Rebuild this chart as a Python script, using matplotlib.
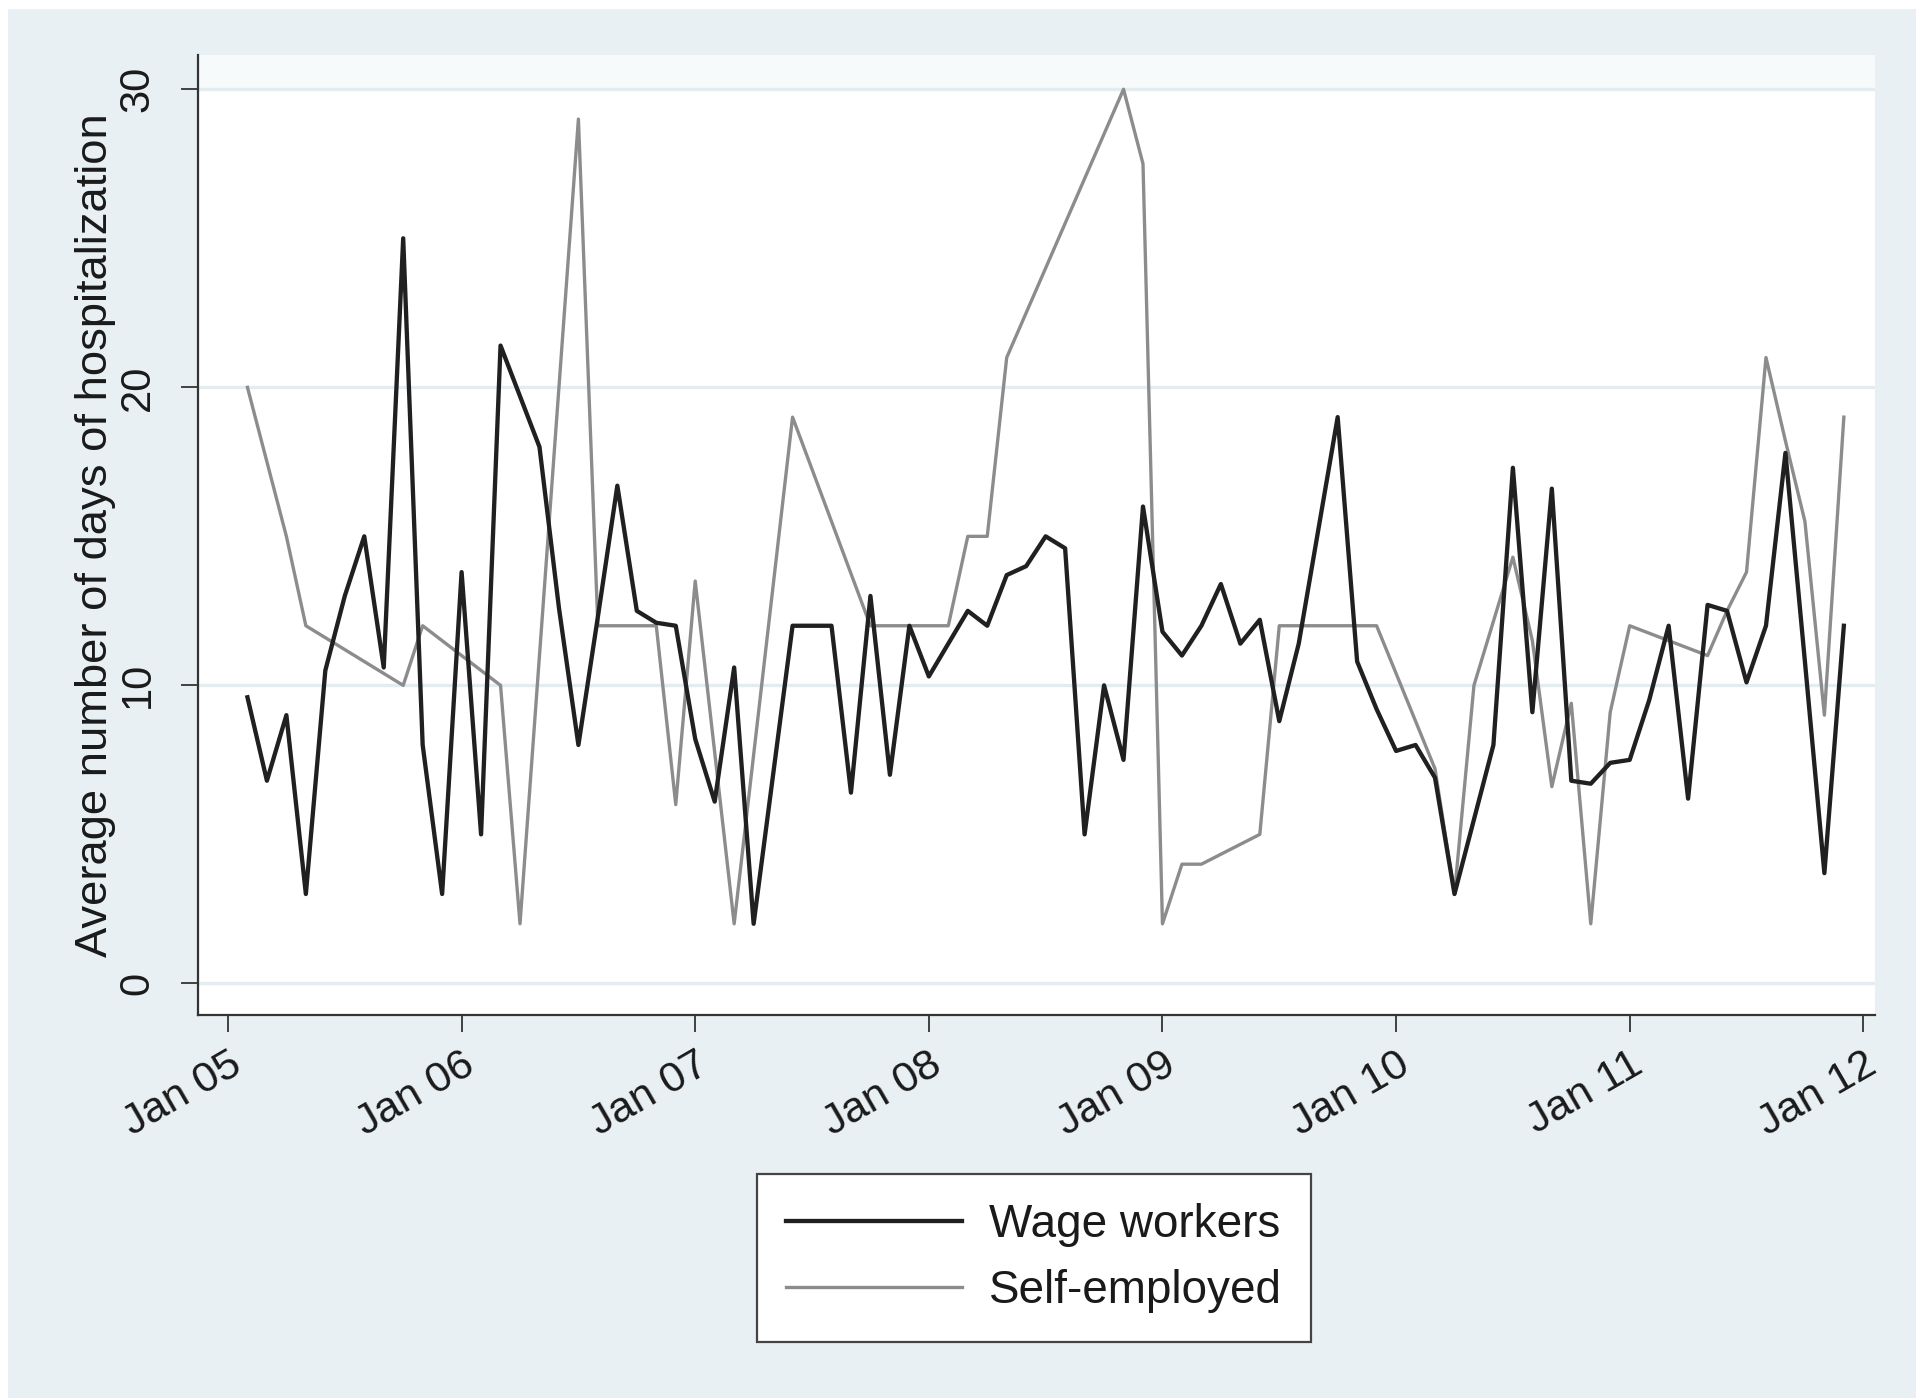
import matplotlib
matplotlib.use('Agg')
import matplotlib.pyplot as plt
import matplotlib.patches as patches
import numpy as np

plt.rcParams['font.family'] = ['Liberation Sans', 'DejaVu Sans']

# months counted from Jan 2005 (0 = Jan 05)
wage_months = list(range(1, 84))
wage_days = [9.6, 6.8, 9.0, 3.0, 10.5, 13.0, 15.0, 10.6, 25.0, 8.0,
             3.0, 13.8, 5.0, 21.4, 19.7, 18.0, 12.6, 8.0, 12.3, 16.7,
             12.5, 12.1, 12.0, 8.2, 6.1, 10.6, 2.0, 7.0, 12.0, 12.0,
             12.0, 6.4, 13.0, 7.0, 12.0, 10.3, 11.4, 12.5, 12.0, 13.7,
             14.0, 15.0, 14.6, 5.0, 10.0, 7.5, 16.0, 11.8, 11.0, 12.0,
             13.4, 11.4, 12.2, 8.8, 11.4, 15.2, 19.0, 10.8, 9.2, 7.8,
             8.0, 6.9, 3.0, 5.5, 8.0, 17.3, 9.1, 16.6, 6.8, 6.7,
             7.4, 7.5, 9.5, 12.0, 6.2, 12.7, 12.5, 10.1, 12.0, 17.8,
             10.8, 3.7, 12.0]

self_months = [1, 3, 4, 9, 10, 14, 15, 18, 19, 22, 23, 24, 26, 29, 33, 37,
               38, 39, 40, 46, 47, 48, 49, 50, 53, 54, 59, 62, 63, 64, 66,
               67, 68, 69, 70, 71, 72, 76, 77, 78, 79, 80, 81, 82, 83]
self_days = [20.0, 15.0, 12.0, 10.0, 12.0, 10.0, 2.0, 29.0, 12.0, 12.0,
             6.0, 13.5, 2.0, 19.0, 12.0, 12.0, 15.0, 15.0, 21.0, 30.0,
             27.5, 2.0, 4.0, 4.0, 5.0, 12.0, 12.0, 7.2, 3.0, 10.0,
             14.3, 11.5, 6.6, 9.4, 2.0, 9.1, 12.0, 11.0, 12.5, 13.8,
             21.0, 18.2, 15.5, 9.0, 19.0]

years = ['05', '06', '07', '08', '09', '10', '11', '12']
yticks = [0, 10, 20, 30]

bg = '#e8f0f3'
fig = plt.figure(figsize=(19.16, 13.98), dpi=100, facecolor='white')
fig.patches.append(patches.Rectangle((8 / 1916, 0), 1, 1 - 9 / 1398,
                                     transform=fig.transFigure, facecolor=bg,
                                     edgecolor='none', zorder=0))

ax = fig.add_axes([198 / 1916, 383 / 1398, 1677 / 1916, 960 / 1398])
ax.set_zorder(2)
ax.set_facecolor('white')

ax.set_ylim(-1.06, 31.15)
ax.set_xlim(-1.54, 84.6)
ax.axhspan(30, 31.15, color='#f6fafa', lw=0, zorder=0)
for v in yticks:
    ax.axhline(v, color='#e3ecef', lw=2.4, zorder=1)

ax.plot(self_months, self_days, color='#8c8c8c', lw=2.4, zorder=3, label='Self-employed')
ax.plot(wage_months, wage_days, color='#202020', lw=3.1, zorder=4, label='Wage workers')

ax.set_yticks(yticks)
ax.set_yticklabels([str(v) for v in yticks], rotation=90, va='center', fontsize=30)
ax.set_xticks(np.arange(len(years)) * 12)
ax.set_xticklabels(['Jan ' + y for y in years], rotation=30, ha='right', va='top',
                   rotation_mode='anchor', fontsize=31)
ax.tick_params(axis='both', direction='out', length=12, width=1.3, color='#333333',
               labelcolor='#1a1a1a')
ax.tick_params(axis='y', pad=17)
ax.tick_params(axis='x', pad=9)

for s in ['top', 'right']:
    ax.spines[s].set_visible(False)
for s in ['left', 'bottom']:
    ax.spines[s].set_color('#333333')
    ax.spines[s].set_linewidth(1.6)

ax.set_ylabel('Average number of days of hospitalization', fontsize=32.7, color='#1a1a1a')
ax.yaxis.set_label_coords(-0.049, 0.5)

handles, labels = ax.get_legend_handles_labels()
leg = fig.legend(handles[::-1], labels[::-1], loc='center',
                 bbox_to_anchor=(1034 / 1916, 140 / 1398), fontsize=33,
                 frameon=True, fancybox=False, handlelength=3.85, handletextpad=0.6,
                 labelspacing=0.5, borderpad=0.62)
leg.set_zorder(5)
leg.get_frame().set_facecolor('white')
leg.get_frame().set_alpha(1)
leg.get_frame().set_edgecolor('#444444')
leg.get_frame().set_linewidth(1.6)
for t in leg.get_texts():
    t.set_color('#1a1a1a')

plt.savefig('out.png', dpi=100, facecolor='white')
